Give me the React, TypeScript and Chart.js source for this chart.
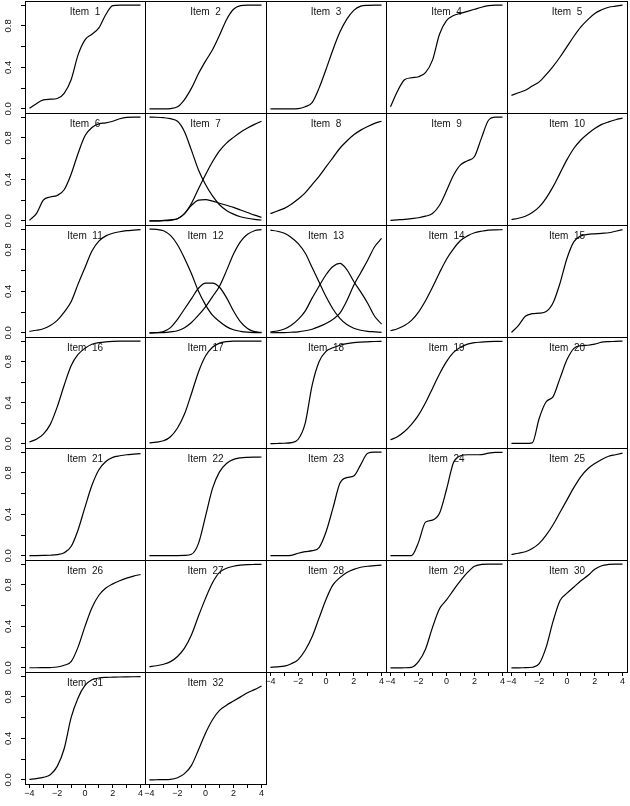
import React, { useEffect, useRef } from "react";
import { Chart, registerables } from "chart.js";

Chart.register(...registerables);

// ---------- data ----------
const thetaGrid = [-4, -3.5, -3, -2.5, -2, -1.5, -1, -0.5, 0, 0.5, 1, 1.5, 2, 2.5, 3, 3.5, 4];
const xTickValues = [-4, -3, -2, -1, 0, 1, 2, 3, 4];
const xLabelValues = [-4, -2, 0, 2, 4];
const yTickValues = [0, 0.2, 0.4, 0.6, 0.8, 1];
const yLabelValues = [0, 0.4, 0.8];

const item1 = [0.005, 0.05, 0.087, 0.093, 0.1, 0.15, 0.28, 0.52, 0.665, 0.72, 0.78, 0.91, 0.995, 1, 1, 1, 1];
const item2 = [0, 0, 0, 0.003, 0.02, 0.09, 0.2, 0.34, 0.46, 0.57, 0.71, 0.86, 0.96, 0.995, 1, 1, 1];
const item3 = [0, 0, 0, 0, 0.002, 0.02, 0.06, 0.2, 0.38, 0.57, 0.74, 0.865, 0.95, 0.99, 0.998, 1, 1];
const item4 = [0.02, 0.17, 0.28, 0.3, 0.31, 0.35, 0.47, 0.72, 0.85, 0.9, 0.92, 0.94, 0.96, 0.98, 0.995, 1, 1];
const item5 = [0.13, 0.155, 0.18, 0.22, 0.26, 0.33, 0.41, 0.5, 0.6, 0.7, 0.79, 0.86, 0.92, 0.955, 0.98, 0.99, 1];
const item6 = [0.005, 0.07, 0.2, 0.23, 0.245, 0.3, 0.45, 0.65, 0.82, 0.9, 0.935, 0.945, 0.96, 0.985, 0.998, 1, 1];
const item7Low = [1, 0.999, 0.995, 0.985, 0.96, 0.86, 0.68, 0.49, 0.35, 0.24, 0.155, 0.1, 0.065, 0.04, 0.025, 0.015, 0.008];
const item7Mid = [0, 0.0005, 0.001, 0.005, 0.02, 0.07, 0.15, 0.2, 0.205, 0.19, 0.17, 0.15, 0.13, 0.105, 0.08, 0.055, 0.035];
const item7High = [0, 0, 0.004, 0.01, 0.02, 0.07, 0.17, 0.31, 0.445, 0.57, 0.675, 0.75, 0.805, 0.855, 0.895, 0.93, 0.96];
const item8 = [0.07, 0.095, 0.12, 0.16, 0.21, 0.27, 0.35, 0.43, 0.52, 0.61, 0.7, 0.77, 0.83, 0.875, 0.91, 0.94, 0.96];
const item9 = [0.005, 0.01, 0.015, 0.022, 0.03, 0.045, 0.07, 0.15, 0.29, 0.44, 0.54, 0.58, 0.62, 0.8, 0.97, 1, 1];
const item10 = [0.013, 0.025, 0.045, 0.08, 0.135, 0.22, 0.33, 0.46, 0.59, 0.7, 0.78, 0.84, 0.89, 0.93, 0.955, 0.975, 0.99];
const item11 = [0.015, 0.025, 0.04, 0.07, 0.12, 0.2, 0.3, 0.47, 0.63, 0.79, 0.885, 0.935, 0.96, 0.975, 0.985, 0.99, 0.995];
const item12Low = [1, 0.997, 0.985, 0.94, 0.85, 0.72, 0.57, 0.4, 0.27, 0.17, 0.11, 0.06, 0.03, 0.015, 0.007, 0.003, 0.001];
const item12Mid = [0, 0.002, 0.012, 0.05, 0.13, 0.23, 0.33, 0.43, 0.48, 0.48, 0.44, 0.34, 0.21, 0.105, 0.043, 0.012, 0.004];
const item12High = [0, 0.001, 0.003, 0.01, 0.02, 0.05, 0.1, 0.17, 0.25, 0.35, 0.45, 0.6, 0.76, 0.88, 0.95, 0.985, 0.995];
const item13Low = [0.99, 0.98, 0.96, 0.92, 0.86, 0.77, 0.63, 0.49, 0.35, 0.23, 0.14, 0.08, 0.045, 0.025, 0.015, 0.01, 0.005];
const item13Mid = [0.009, 0.018, 0.037, 0.074, 0.13, 0.21, 0.335, 0.45, 0.56, 0.64, 0.67, 0.61, 0.495, 0.395, 0.285, 0.16, 0.085];
const item13High = [0.001, 0.002, 0.003, 0.006, 0.01, 0.02, 0.035, 0.06, 0.09, 0.13, 0.19, 0.31, 0.46, 0.58, 0.7, 0.83, 0.91];
const item14 = [0.02, 0.04, 0.07, 0.12, 0.2, 0.31, 0.44, 0.58, 0.71, 0.81, 0.89, 0.935, 0.965, 0.98, 0.99, 0.993, 0.995];
const item15 = [0.005, 0.07, 0.16, 0.185, 0.19, 0.205, 0.29, 0.48, 0.72, 0.88, 0.935, 0.95, 0.955, 0.96, 0.965, 0.98, 0.995];
const item16 = [0.02, 0.045, 0.095, 0.19, 0.36, 0.57, 0.76, 0.87, 0.93, 0.97, 0.985, 0.993, 0.997, 0.999, 0.999, 0.999, 0.999];
const item17 = [0.01, 0.018, 0.03, 0.07, 0.155, 0.29, 0.49, 0.7, 0.855, 0.94, 0.98, 0.995, 0.999, 0.999, 0.999, 0.999, 0.999];
const item18 = [0.003, 0.004, 0.006, 0.012, 0.045, 0.2, 0.57, 0.8, 0.9, 0.935, 0.96, 0.975, 0.985, 0.99, 0.993, 0.996, 0.998];
const item19 = [0.04, 0.07, 0.12, 0.19, 0.28, 0.4, 0.54, 0.68, 0.8, 0.89, 0.94, 0.97, 0.985, 0.99, 0.995, 0.997, 0.998];
const item20 = [0.005, 0.005, 0.005, 0.01, 0.25, 0.41, 0.46, 0.64, 0.82, 0.93, 0.955, 0.96, 0.97, 0.99, 0.995, 0.997, 1];
const item21 = [0.003, 0.003, 0.004, 0.006, 0.012, 0.03, 0.09, 0.25, 0.47, 0.68, 0.83, 0.91, 0.95, 0.965, 0.975, 0.98, 0.985];
const item22 = [0.002, 0.002, 0.002, 0.002, 0.003, 0.005, 0.015, 0.12, 0.38, 0.65, 0.81, 0.89, 0.93, 0.945, 0.95, 0.952, 0.953];
const item23 = [0.002, 0.002, 0.003, 0.005, 0.025, 0.04, 0.05, 0.08, 0.23, 0.46, 0.7, 0.755, 0.77, 0.88, 0.99, 1, 1];
const item24 = [0.002, 0.002, 0.002, 0.003, 0.13, 0.325, 0.345, 0.41, 0.64, 0.9, 0.965, 0.975, 0.975, 0.977, 0.99, 0.997, 0.998];
const item25 = [0.013, 0.025, 0.04, 0.07, 0.12, 0.2, 0.3, 0.42, 0.54, 0.66, 0.765, 0.84, 0.89, 0.93, 0.96, 0.975, 0.99];
const item26 = [0.001, 0.001, 0.002, 0.003, 0.008, 0.025, 0.06, 0.2, 0.4, 0.58, 0.7, 0.77, 0.81, 0.84, 0.865, 0.885, 0.9];
const item27 = [0.012, 0.02, 0.035, 0.06, 0.11, 0.19, 0.32, 0.5, 0.67, 0.82, 0.92, 0.96, 0.98, 0.99, 0.995, 0.997, 0.998];
const item28 = [0.005, 0.01, 0.016, 0.04, 0.08, 0.17, 0.3, 0.48, 0.66, 0.8, 0.87, 0.92, 0.95, 0.97, 0.98, 0.985, 0.99];
const item29 = [0, 0, 0.001, 0.005, 0.06, 0.18, 0.39, 0.57, 0.655, 0.75, 0.84, 0.92, 0.98, 0.997, 1, 1, 1];
const item30 = [0, 0, 0.002, 0.006, 0.04, 0.2, 0.45, 0.65, 0.72, 0.78, 0.84, 0.89, 0.95, 0.985, 0.997, 1, 1];
const item31 = [0.005, 0.012, 0.024, 0.05, 0.13, 0.3, 0.6, 0.79, 0.91, 0.965, 0.982, 0.988, 0.99, 0.992, 0.993, 0.994, 0.995];
const item32 = [0, 0.001, 0.002, 0.004, 0.02, 0.06, 0.14, 0.29, 0.45, 0.58, 0.67, 0.72, 0.76, 0.8, 0.84, 0.87, 0.905];

const itemCurves: number[][][] = [
  [item1], [item2], [item3], [item4], [item5],
  [item6], [item7Low, item7Mid, item7High], [item8], [item9], [item10],
  [item11], [item12Low, item12Mid, item12High], [item13Low, item13Mid, item13High], [item14], [item15],
  [item16], [item17], [item18], [item19], [item20],
  [item21], [item22], [item23], [item24], [item25],
  [item26], [item27], [item28], [item29], [item30],
  [item31], [item32],
];

// ---------- layout ----------
const NCOL = 5;
const GRID_LEFT = 25;
const GRID_TOP = 1;
const PANEL_W = 120.4;
const PANEL_H = 111.86;
const Y_AXIS_W = 25;
const X_AXIS_H = 22;
const FONT = '"Liberation Sans", Arial, Helvetica, sans-serif';

const fmt = (v: number) => (v < 0 ? "\u2212" + String(-v) : String(v));

const panelDecor = {
  id: "panelDecor",
  afterDatasetsDraw(chart: any, _args: any, opts: any) {
    const { ctx, chartArea: a } = chart;
    const l = Math.round(a.left), t = Math.round(a.top), r = Math.round(a.right), b = Math.round(a.bottom);
    ctx.save();
    ctx.strokeStyle = "#000";
    ctx.lineWidth = 1;
    ctx.strokeRect(l + 0.5, t + 0.5, r - l, b - t);
    ctx.fillStyle = "#111";
    ctx.font = `10px ${FONT}`;
    ctx.textAlign = "center";
    ctx.textBaseline = "middle";
    ctx.fillText(opts.title, (a.left + a.right) / 2, a.top + 11);
    ctx.restore();
  },
};

function Panel({ idx }: { idx: number }) {
  const ref = useRef<HTMLCanvasElement>(null);
  const N = itemCurves.length;
  const r = Math.floor(idx / NCOL);
  const c = idx % NCOL;
  const L = Math.round(GRID_LEFT + c * PANEL_W);
  const R = Math.round(GRID_LEFT + (c + 1) * PANEL_W);
  const T = Math.round(GRID_TOP + r * PANEL_H);
  const B = Math.round(GRID_TOP + (r + 1) * PANEL_H);
  const hasY = c === 0;
  const hasX = idx + NCOL >= N;
  const padL = hasY ? Y_AXIS_W : 3;
  const padR = 3;
  const padT = 2;
  const padB = hasX ? X_AXIS_H : 2;
  const w = R - L + padL + padR;
  const h = B - T + padT + padB;

  useEffect(() => {
    const datasets = itemCurves[idx].map((curve) => ({
      data: thetaGrid.map((x, i) => ({ x, y: curve[i] })),
      borderColor: "#000",
      borderWidth: 1.2,
      pointRadius: 0,
      fill: false,
      cubicInterpolationMode: "monotone" as const,
    }));
    const chart = new Chart(ref.current as HTMLCanvasElement, {
      type: "line",
      data: { datasets },
      plugins: [panelDecor as any],
      options: {
        animation: false,
        responsive: false,
        devicePixelRatio: 1,
        events: [],
        layout: {
          padding: { left: hasY ? 0 : padL, right: padR, top: padT, bottom: hasX ? 0 : padB },
        },
        plugins: {
          legend: { display: false },
          tooltip: { enabled: false },
          panelDecor: { title: "Item  " + (idx + 1) },
        } as any,
        scales: {
          x: {
            type: "linear",
            min: -4.32,
            max: 4.32,
            display: hasX,
            position: "bottom",
            afterBuildTicks: (s: any) => {
              s.ticks = xTickValues.map((v) => ({ value: v }));
            },
            afterFit: (s: any) => {
              if (!hasX) return;
              s.height = X_AXIS_H;
              s.paddingLeft = 0;
              s.paddingRight = 0;
              s.paddingTop = 0;
              s.paddingBottom = 0;
            },
            grid: { drawOnChartArea: false, drawTicks: true, tickLength: 4, color: "#000", lineWidth: 1 },
            border: { display: false },
            ticks: {
              autoSkip: false,
              maxRotation: 0,
              minRotation: 0,
              padding: 0,
              color: "#111",
              font: { family: FONT, size: 9 },
              callback: (v: any) => (xLabelValues.includes(Number(v)) ? fmt(Number(v)) : ""),
            },
          },
          y: {
            type: "linear",
            min: -0.04,
            max: 1.04,
            display: hasY,
            position: "left",
            afterBuildTicks: (s: any) => {
              s.ticks = yTickValues.map((v) => ({ value: v }));
            },
            afterFit: (s: any) => {
              if (!hasY) return;
              s.width = Y_AXIS_W;
              s.paddingLeft = 0;
              s.paddingRight = 0;
              s.paddingTop = 0;
              s.paddingBottom = 0;
            },
            grid: { drawOnChartArea: false, drawTicks: true, tickLength: 4, color: "#000", lineWidth: 1 },
            border: { display: false },
            ticks: {
              autoSkip: false,
              minRotation: 90,
              maxRotation: 90,
              crossAlign: "center",
              padding: 6,
              color: "#111",
              font: { family: FONT, size: 9.5 },
              callback: (v: any) => (yLabelValues.includes(Number(v)) ? Number(v).toFixed(1) : ""),
            },
          },
        },
      } as any,
    });
    return () => chart.destroy();
  }, []);

  return (
    <canvas
      ref={ref}
      width={w}
      height={h}
      style={{ position: "absolute", left: L - padL, top: T - padT, width: w, height: h }}
    />
  );
}

export default function App() {
  return (
    <div style={{ position: "absolute", left: 0, top: 0, width: 630, height: 806, background: "#fff" }}>
      {itemCurves.map((_, i) => (
        <Panel key={i} idx={i} />
      ))}
    </div>
  );
}
